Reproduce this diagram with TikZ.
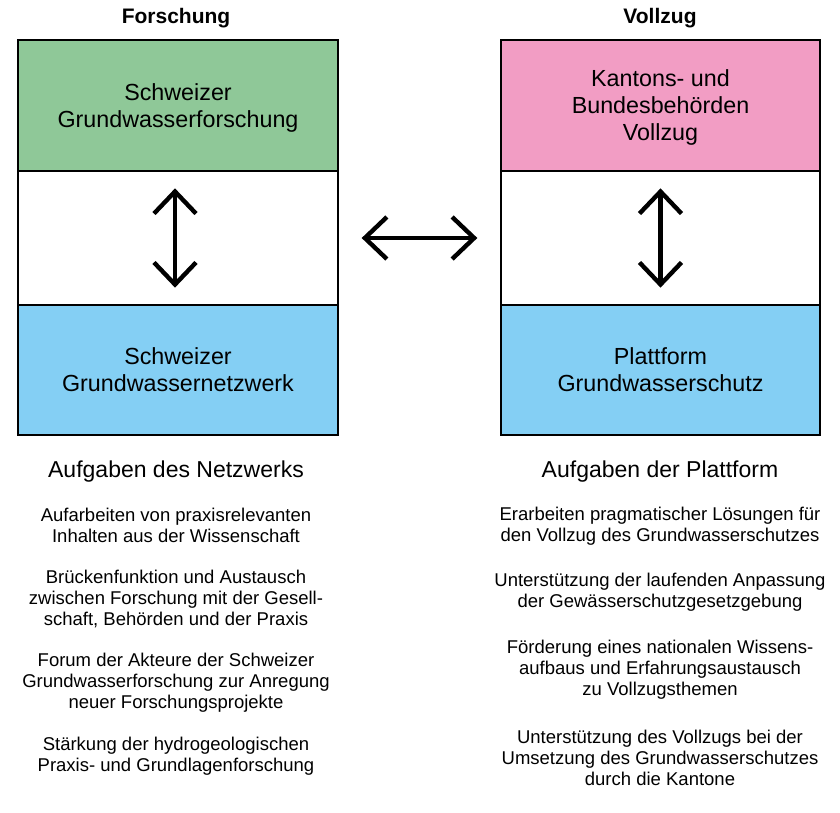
\documentclass[tikz,border=0pt]{standalone}
\usepackage{fontspec}
\setmainfont{Liberation Sans}
\usetikzlibrary{shapes, arrows.meta, positioning}
\definecolor{gwgreen}{RGB}{143,200,152}
\definecolor{gwpink}{RGB}{242,157,196}
\definecolor{gwblue}{RGB}{132,207,244}
\tikzstyle{title} = [font=\fontsize{21}{25}\selectfont\bfseries]
\tikzstyle{block} = [rectangle, minimum width=320pt, text centered, align=center, draw=black, line width=1.3pt, inner sep=0pt, font=\fontsize{23.3}{27}\selectfont]
\tikzstyle{heading} = [font=\fontsize{23}{27}\selectfont]
\tikzstyle{task} = [align=center, inner sep=0pt, font=\fontsize{18.5}{21}\selectfont]
\tikzstyle{dblarrow} = [line width=4.4pt, {Straight Barb[length=22pt,width=42pt,sharp]}-{Straight Barb[length=22pt,width=42pt,sharp]}]

\begin{document}
\begin{tikzpicture}[x=1pt, y=-1pt, on grid]
    \useasboundingbox (0,0) rectangle (840,812);
    \node (forschung) [title] at (176,18.5) {Forschung};
    \node (vollzug) [title] at (660,18.5) {Vollzug};

    \node (gwforschung) [block, fill=gwgreen, minimum height=131pt] at (178,105.5) {\rule{0pt}{21pt}Schweizer\\Grundwasserforschung};
    \node (leftmid) [block, fill=white, minimum height=134pt, below=132.5pt of gwforschung] {};
    \node (gwnetz) [block, fill=gwblue, minimum height=130pt, below=132pt of leftmid] {Schweizer\\Grundwassernetzwerk};

    \node (behoerden) [block, fill=gwpink, minimum width=319pt, minimum height=131pt] at (660.5,105.5) {\rule{0pt}{21pt}Kantons- und\\Bundesbehörden\\Vollzug};
    \node (rightmid) [block, fill=white, minimum width=319pt, minimum height=134pt, below=132.5pt of behoerden] {};
    \node (plattform) [block, fill=gwblue, minimum width=319pt, minimum height=130pt, below=132pt of rightmid] {Plattform\\Grundwasserschutz};

    \node (netzhead) [heading] at (176,472) {Aufgaben des Netzwerks};
    \node (netz1) [task, below=53pt of netzhead] {Aufarbeiten von praxisrelevanten\\Inhalten aus der Wissenschaft};
    \node (netz2) [task, below=73.5pt of netz1] {Brückenfunktion und Austausch\\zwischen Forschung mit der Gesell-\\schaft, Behörden und der Praxis};
    \node (netz3) [task, below=84pt of netz2] {Forum der Akteure der Schweizer\\Grundwasserforschung zur Anregung\\neuer Forschungsprojekte};
    \node (netz4) [task, below=73.5pt of netz3] {Stärkung der hydrogeologischen\\Praxis- und Grundlagenforschung};

    \node (platthead) [heading] at (660,472) {Aufgaben der Plattform};
    \node (platt1) [task, below=54pt of platthead] {Erarbeiten pragmatischer Lösungen für\\den Vollzug des Grundwasserschutzes};
    \node (platt2) [task, below=66.5pt of platt1] {Unterstützung der laufenden Anpassung\\der Gewässerschutzgesetzgebung};
    \node (platt3) [task, below=77pt of platt2] {Förderung eines nationalen Wissens-\\aufbaus und Erfahrungsaustausch\\zu Vollzugsthemen};
    \node (platt4) [task, below=88.5pt of platt3] {Unterstützung des Vollzugs bei der\\Umsetzung des Grundwasserschutzes\\durch die Kantone};

    \draw [dblarrow, shorten <=18pt, shorten >=18pt] ([xshift=-3pt]leftmid.north) -- ([xshift=-3pt]leftmid.south);
    \draw [dblarrow, shorten <=18pt, shorten >=18pt] (rightmid.north) -- (rightmid.south);
    \draw [dblarrow, shorten <=23pt, shorten >=23pt] (leftmid.east) -- (rightmid.west);
\end{tikzpicture}
\end{document}
